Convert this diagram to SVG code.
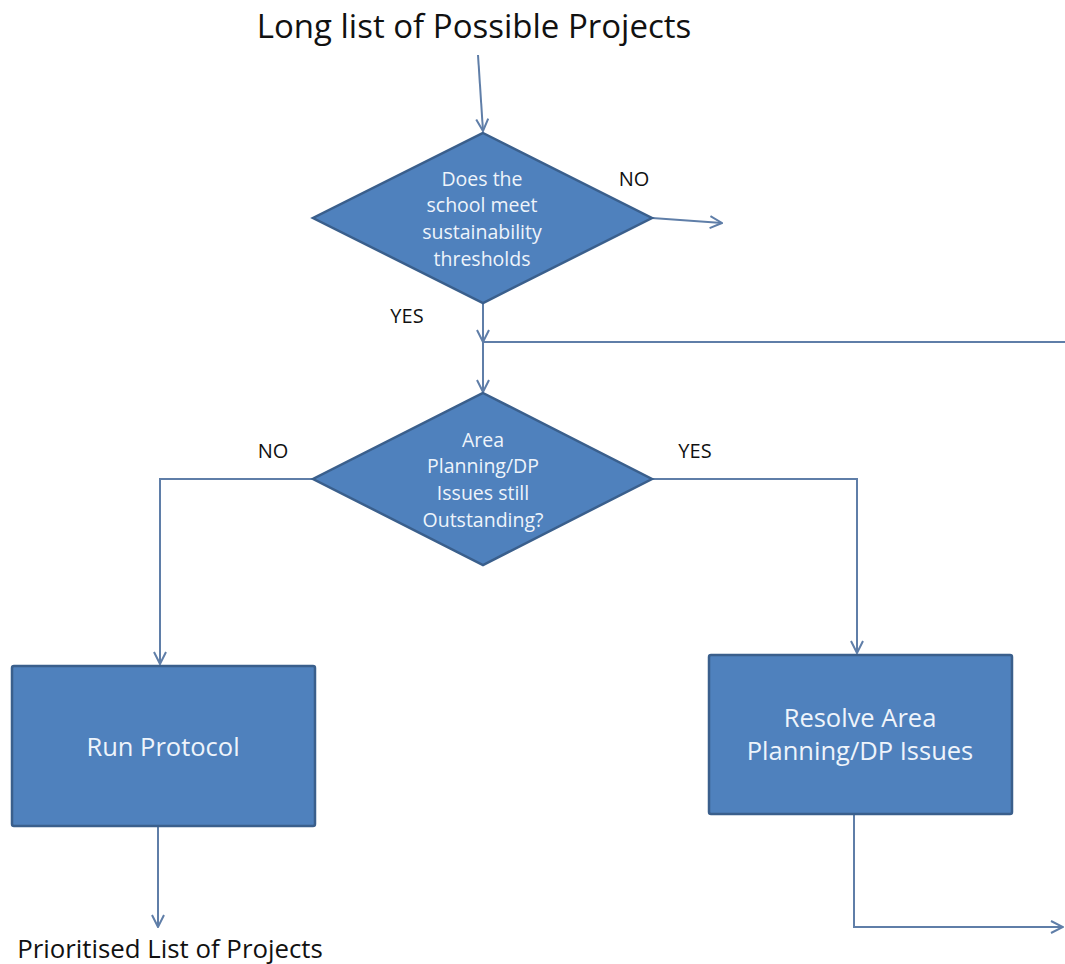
<svg xmlns="http://www.w3.org/2000/svg" width="1065" height="964" viewBox="0 0 1065 964">
<style>
.shape{fill:#4f81bd;stroke:#3a5f8c;stroke-width:2.5}
.in{font-family:"Open Sans","Liberation Sans",Arial,sans-serif;fill:#eef4fb;text-anchor:middle}
.lbl{font-family:"Open Sans","Liberation Sans",Arial,sans-serif;fill:#111;text-anchor:middle}
.con{fill:none;stroke:#5f7ea8;stroke-width:2}
</style>
<defs>
<marker id="arr" viewBox="0 0 14 14" refX="13" refY="7" markerWidth="14" markerHeight="14" markerUnits="userSpaceOnUse" orient="auto">
<path d="M1,1 L13,7 L1,13" fill="none" stroke="#5f7ea8" stroke-width="2"/>
</marker>
</defs>
<rect width="1065" height="964" fill="#fff"/>
<g id="connectors">
<path class="con" d="M478,55 L483,131" marker-end="url(#arr)"/>
<path class="con" d="M652,218 L722,223" marker-end="url(#arr)"/>
<path class="con" d="M483,303 L483,342" marker-end="url(#arr)"/>
<path class="con" d="M483,342 L483,392" marker-end="url(#arr)"/>
<path class="con" d="M1065,342 L483,342"/>
<path class="con" d="M313,479 L160,479 L160,664" marker-end="url(#arr)"/>
<path class="con" d="M652,479 L857,479 L857,653" marker-end="url(#arr)"/>
<path class="con" d="M158,827 L158,927" marker-end="url(#arr)"/>
<path class="con" d="M854,815 L854,927 L1063,927" marker-end="url(#arr)"/>
</g>
<g id="title"><text class="lbl" x="474" y="38" font-size="33">Long list of Possible Projects</text></g>
<g id="d1">
<polygon class="shape" points="483,133 652,218 483,303 313,218"/>
<text class="in" font-size="19.5"><tspan x="482" y="186">Does the</tspan><tspan x="482" y="212">school meet</tspan><tspan x="482" y="239">sustainability</tspan><tspan x="482" y="266">thresholds</tspan></text>
</g>
<g id="l1"><text class="lbl" x="634" y="186" font-size="20">NO</text><text class="lbl" x="407" y="323" font-size="20">YES</text></g>
<g id="d2">
<polygon class="shape" points="483,393 652,479 483,565 313,479"/>
<text class="in" font-size="19.5"><tspan x="483" y="447">Area</tspan><tspan x="483" y="473">Planning/DP</tspan><tspan x="483" y="500">Issues still</tspan><tspan x="483" y="527">Outstanding?</tspan></text>
</g>
<g id="l2"><text class="lbl" x="273" y="458" font-size="20">NO</text><text class="lbl" x="695" y="458" font-size="20">YES</text></g>
<g id="run">
<rect class="shape" x="12" y="666" width="303" height="160" rx="2"/>
<text class="in" x="163" y="756" font-size="25.5">Run Protocol</text>
</g>
<g id="resolve">
<rect class="shape" x="709" y="655" width="303" height="159" rx="2"/>
<text class="in" font-size="25.5"><tspan x="860" y="727">Resolve Area</tspan><tspan x="860" y="760">Planning/DP Issues</tspan></text>
</g>
<g id="out"><text class="lbl" x="170" y="958" font-size="25.8">Prioritised List of Projects</text></g>
</svg>
